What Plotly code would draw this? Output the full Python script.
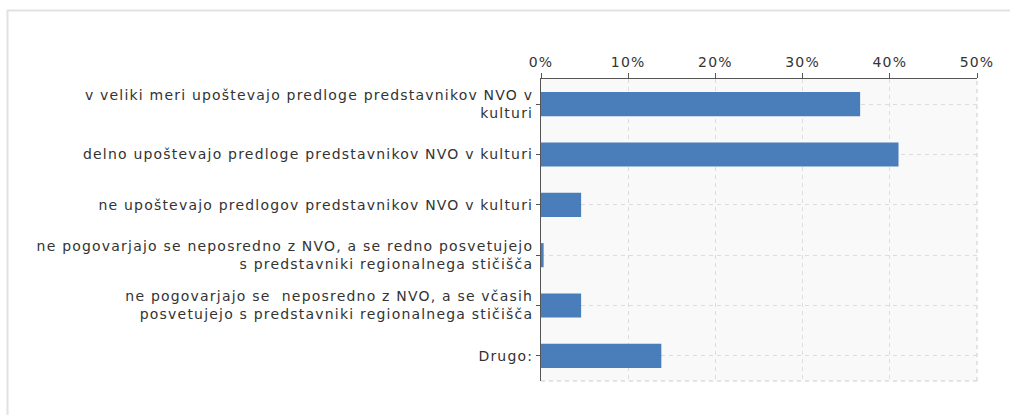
import plotly.graph_objects as go

categories = [
    "v veliki meri upoštevajo predloge predstavnikov NVO v<br>kulturi",
    "delno upoštevajo predloge predstavnikov NVO v kulturi",
    "ne upoštevajo predlogov predstavnikov NVO v kulturi",
    "ne pogovarjajo se neposredno z NVO, a se redno posvetujejo<br>s predstavniki regionalnega stičišča",
    "ne pogovarjajo se  neposredno z NVO, a se včasih<br>posvetujejo s predstavniki regionalnega stičišča",
    "Drugo:",
]
values = [36.6, 41.0, 4.6, 0.3, 4.6, 13.8]
tick_vals = [0, 10, 20, 30, 40, 50]
tick_text = ["0%", "10%", "20%", "30%", "40%", "50%"]

W, H = 1010, 415
L, R, T, B = 541, 33, 79, 34
pw, ph = W - L - R, H - T - B

def px(x):
    return (x - L) / pw

def py(y):
    return (H - B - y) / ph

fig = go.Figure()
fig.add_trace(go.Bar(
    y=categories, x=values, orientation="h",
    marker=dict(color="#4a7ebb", line=dict(width=0)),
    width=0.48,
    hoverinfo="x+y",
))

grid_col = "#dcdcdc"
fig.update_layout(
    width=W, height=H,
    margin=dict(l=L, r=R, t=T, b=B, pad=0),
    paper_bgcolor="white",
    plot_bgcolor="#f9f9f9",
    showlegend=False,
    font=dict(family="DejaVu Sans", size=14, color="#333333"),
    xaxis=dict(
        side="top", range=[0, 50], tickvals=tick_vals, ticktext=tick_text,
        showgrid=True, gridcolor=grid_col, griddash="4px,4px", gridwidth=1,
        showline=True, linecolor="#555555", linewidth=1,
        ticks="outside", ticklen=5, tickcolor="#555555",
        zeroline=False, fixedrange=True, automargin=False,
        tickfont=dict(size=14, color="#333333"),
    ),
    yaxis=dict(
        autorange="reversed",
        showgrid=True, gridcolor=grid_col, griddash="4px,4px", gridwidth=1,
        showline=True, linecolor="#555555", linewidth=1,
        ticks="outside", ticklen=4, tickcolor="#555555",
        zeroline=False, fixedrange=True, automargin=False,
        tickfont=dict(size=14, color="#333333"),
    ),
    shapes=[
        dict(type="line", xref="paper", yref="paper", x0=1, x1=1, y0=0, y1=1,
             line=dict(color=grid_col, width=1.5, dash="4px,4px")),
        dict(type="line", xref="paper", yref="paper", x0=0, x1=1, y0=0, y1=0,
             line=dict(color=grid_col, width=1.5, dash="4px,4px")),
        dict(type="rect", xref="paper", yref="paper",
             x0=px(7.5), x1=px(1030), y0=py(10.5), y1=py(440),
             line=dict(color="#e2e2e2", width=2), layer="below"),
    ],
)

post = """
document.body.style.margin = '0px';
document.querySelectorAll('.xtick text, .ytick text').forEach(function(t){
  t.style.letterSpacing = '1.2px';
});
"""
fig.write_html("out.html", post_script=post, config={"displayModeBar": False})
